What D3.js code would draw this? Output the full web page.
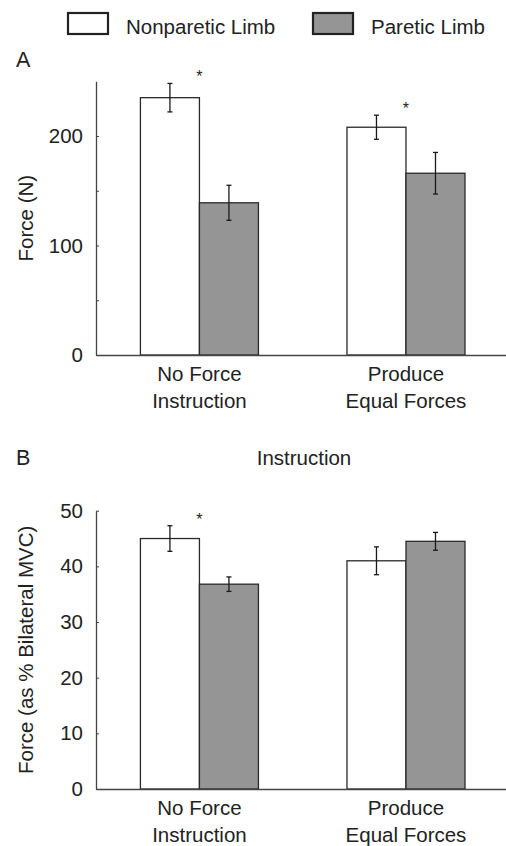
<!DOCTYPE html>
<html>
<head>
<meta charset="utf-8">
<script src="https://cdn.jsdelivr.net/npm/d3@7"></script>
<style>
    body { margin: 0; background: #fff; }
    svg text { font-family: 'Liberation Sans', Arial, sans-serif; fill: #222; }
</style>
</head>
<body>
<script>
// data
const groups = ['No Force Instruction', 'Produce Equal Forces']
const group_lines = [['No Force', 'Instruction'], ['Produce', 'Equal Forces']]
const limbs = ['Nonparetic Limb', 'Paretic Limb']
const limb_colors = ['#ffffff', '#959595']

// panel A: force (N)
const force_nonparetic = [235, 208]
const force_nonparetic_err = [13, 11]
const force_paretic = [139, 166]
const force_paretic_err = [16, 19]
const force_signif = [true, true]
const force_ticks = [0, 100, 200]
const force_minor_ticks = [50, 150]

// panel B: force as % bilateral MVC
const pct_nonparetic = [45.0, 41.0]
const pct_nonparetic_err = [2.3, 2.5]
const pct_paretic = [36.8, 44.5]
const pct_paretic_err = [1.3, 1.6]
const pct_signif = [true, false]
const pct_ticks = [0, 10, 20, 30, 40, 50]

const width = 506, height = 846
const font_size = 20.5

const svg = d3.select('body').append('svg')
    .attr('width', width)
    .attr('height', height)

function get_rows(a, a_err, b, b_err, signif) {
    return groups.map((g, i) => ({
        group: g,
        lines: group_lines[i],
        signif: signif[i],
        bars: [
            {limb: limbs[0], value: a[i], err: a_err[i]},
            {limb: limbs[1], value: b[i], err: b_err[i]},
        ]
    }))
}

function draw_panel(opts) {
    const {rows, y_domain, y_range, ticks, minor_ticks, y_label, letter, letter_y} = opts
    const x = d3.scaleBand().domain(groups).range([96, 506])
        .paddingInner(0.4286).paddingOuter(0.2068).align(0.52)
    const x_sub = d3.scaleBand().domain(limbs).range([0, x.bandwidth()])
    const y = d3.scaleLinear().domain(y_domain).range(y_range)
    const color = d3.scaleOrdinal().domain(limbs).range(limb_colors)
    const g = svg.append('g')

    // bars
    const grp = g.selectAll('g.grp')
        .data(rows)
        .enter()
        .append('g')
        .attr('transform', d => `translate(${x(d.group)},0)`)
    grp.selectAll('rect')
        .data(d => d.bars)
        .enter()
        .append('rect')
        .attr('x', d => x_sub(d.limb))
        .attr('y', d => y(d.value))
        .attr('width', x_sub.bandwidth())
        .attr('height', d => y(0) - y(d.value))
        .style('fill', d => color(d.limb))
        .style('stroke', '#2a2a2a')
        .style('stroke-width', 1.3)

    // error bars
    const eb = grp.selectAll('g.err')
        .data(d => d.bars)
        .enter()
        .append('g')
        .style('stroke', '#1a1a1a')
        .style('stroke-width', 1.3)
    const cx = d => x_sub(d.limb) + x_sub.bandwidth() / 2
    eb.append('line')
        .attr('x1', cx).attr('x2', cx)
        .attr('y1', d => y(d.value + d.err)).attr('y2', d => y(d.value - d.err))
    eb.append('line')
        .attr('x1', d => cx(d) - 2.5).attr('x2', d => cx(d) + 2.5)
        .attr('y1', d => y(d.value + d.err)).attr('y2', d => y(d.value + d.err))
    eb.append('line')
        .attr('x1', d => cx(d) - 2.5).attr('x2', d => cx(d) + 2.5)
        .attr('y1', d => y(d.value - d.err)).attr('y2', d => y(d.value - d.err))

    // significance stars
    grp.filter(d => d.signif)
        .append('text')
        .text('*')
        .attr('x', x.bandwidth() / 2)
        .attr('y', d => y(d.bars[0].value + d.bars[0].err) - 1)
        .attr('text-anchor', 'middle')
        .style('font-size', '16px')

    // y axis
    const y_axis = g.append('g')
        .attr('transform', 'translate(96,0)')
        .call(d3.axisLeft(y).tickValues(ticks).tickSize(-3).tickSizeOuter(0).tickPadding(13))
    y_axis.select('.domain').style('stroke', '#444').style('stroke-width', 1.3)
    y_axis.selectAll('.tick line').style('stroke', '#444')
    y_axis.selectAll('.tick text').style('font-size', `${font_size}px`).style('fill', '#222')
    if (minor_ticks) {
        g.append('g')
            .attr('transform', 'translate(96,0)')
            .call(d3.axisLeft(y).tickValues(minor_ticks).tickSize(-3).tickFormat(''))
            .call(a => a.select('.domain').remove())
            .selectAll('.tick line').style('stroke', '#444')
    }

    // x axis
    const x_axis = g.append('g')
        .attr('transform', `translate(0,${y(0)})`)
        .call(d3.axisBottom(x).tickSize(0).tickSizeOuter(0).tickFormat(''))
    x_axis.select('.domain').style('stroke', '#444').style('stroke-width', 1.3)
    const labels = g.selectAll('text.xlab')
        .data(rows)
        .enter()
        .append('text')
        .attr('text-anchor', 'middle')
        .style('font-size', `${font_size}px`)
    labels.selectAll('tspan')
        .data(d => d.lines.map(l => ({l, cx: x(d.group) + x.bandwidth() / 2})))
        .enter()
        .append('tspan')
        .attr('x', d => d.cx)
        .attr('y', (d, i) => y(0) + 25.5 + i * 27.3)
        .text(d => d.l)

    // y label
    g.append('text')
        .attr('transform', `translate(33,${(y_range[0] + y_range[1]) / 2}) rotate(-90)`)
        .attr('text-anchor', 'middle')
        .style('font-size', `${font_size}px`)
        .text(y_label)

    // panel letter
    g.append('text')
        .attr('x', 16)
        .attr('y', letter_y)
        .style('font-size', '21.5px')
        .text(letter)
}

function draw_legend() {
    const legend_x = [68, 313]
    const leg = svg.selectAll('g.legend')
        .data(limbs)
        .enter()
        .append('g')
        .attr('transform', (d, i) => `translate(${legend_x[i]},0)`)
    leg.append('rect')
        .attr('x', 0).attr('y', 13)
        .attr('width', 40).attr('height', 21)
        .style('fill', (d, i) => limb_colors[i])
        .style('stroke', '#222')
        .style('stroke-width', 2.2)
    leg.append('text')
        .attr('x', 58).attr('y', 33.5)
        .style('font-size', `${font_size}px`)
        .text(d => d)
}

function main() {
    draw_legend()
    draw_panel({
        rows: get_rows(force_nonparetic, force_nonparetic_err, force_paretic, force_paretic_err, force_signif),
        y_domain: [0, 250], y_range: [355, 81.25],
        ticks: force_ticks, minor_ticks: force_minor_ticks,
        y_label: 'Force (N)', letter: 'A', letter_y: 66.5
    })
    draw_panel({
        rows: get_rows(pct_nonparetic, pct_nonparetic_err, pct_paretic, pct_paretic_err, pct_signif),
        y_domain: [0, 50], y_range: [789, 510.7],
        ticks: pct_ticks, minor_ticks: null,
        y_label: 'Force (as % Bilateral MVC)', letter: 'B', letter_y: 465
    })
    svg.append('text')
        .attr('x', 304)
        .attr('y', 465)
        .attr('text-anchor', 'middle')
        .style('font-size', `${font_size}px`)
        .text('Instruction')
}

main()
</script>
</body>
</html>
